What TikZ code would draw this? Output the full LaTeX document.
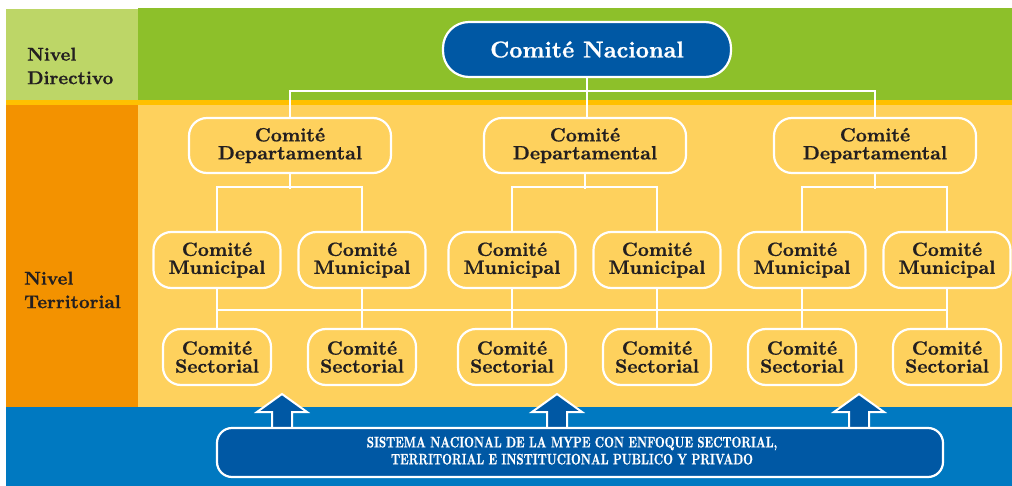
\documentclass[tikz,border=0pt]{standalone}
\usepackage{fontspec}
\setmainfont{lmroman10-regular.otf}[BoldFont=lmroman10-bold.otf, BoldFeatures={FakeBold=0.8}]

\definecolor{verdeclaro}{HTML}{BDD667}
\definecolor{verde}{HTML}{8DC02A}
\definecolor{oro}{HTML}{FFC000}
\definecolor{naranja}{HTML}{F39200}
\definecolor{amarillo}{HTML}{FED15D}
\definecolor{azul}{HTML}{0079C1}
\definecolor{azuloscuro}{HTML}{0058A4}
\definecolor{texto}{HTML}{231F20}

\tikzset{
  comite/.style={draw=white, line width=2.2pt, fill=amarillo, rounded corners=18pt,
    align=center, text=texto, inner sep=0pt, minimum height=56pt,
    font=\fontsize{19.2}{18}\selectfont\bfseries},
  nivel/.style={anchor=west, align=left, text=texto, inner sep=0pt,
    font=\fontsize{18.6}{23.5}\selectfont\bfseries},
  enlace/.style={white, line width=2.2pt},
  flecha/.style={draw=white, line width=2pt, fill=azuloscuro},
}

\begin{document}
\begin{tikzpicture}[x=1pt,y=-1pt]
  \useasboundingbox (0,0) rectangle (1012,486);
  % bands
  \fill[white] (0,0) rectangle (1012,486);
  \fill[verdeclaro] (6,9) rectangle (138,100);
  \fill[verde] (138,8) rectangle (1012,100);
  \fill[oro] (6,100) rectangle (1012,105);
  \fill[naranja] (6,105) rectangle (138,407);
  \fill[amarillo] (138,105) rectangle (1012,407);
  \fill[azul] (6,407) rectangle (1012,486);
  % level labels
  \node[nivel] (dir) at (27,66) {Nivel\\Directivo};
  \node[nivel] (ter) at (24,290) {Nivel\\Territorial};
  % committees
  \node[comite, fill=azuloscuro, text=white, minimum width=288pt, minimum height=55pt,
    rounded corners=26pt, font=\fontsize{23}{24}\selectfont\bfseries]
    (nac) at (587,49.5) {Comité Nacional};
  \node[comite, minimum width=202pt, minimum height=55pt] (dep1) at (290,145.5) {Comité\\Departamental};
  \node[comite, minimum width=202pt, minimum height=55pt] (dep2) at (585,145.5) {Comité\\Departamental};
  \node[comite, minimum width=202pt, minimum height=55pt] (dep3) at (875,145.5) {Comité\\Departamental};
  \foreach \i/\cx in {1/217,2/362,3/512,4/657,5/802,6/947} {
    \node[comite, minimum width=127pt] (mun\i) at (\cx,260) {Comité\\Municipal};
    \node[comite, minimum width=108pt] (sec\i) at (\cx,357) {Comité\\Sectorial};
  }
  % connectors
  \coordinate (barra) at (0,310);
  \draw[enlace] (nac.south) -- (nac.south |- dep2.north);
  \draw[enlace] (dep1.north) -- ++(0,-26) -| (dep3.north);
  \foreach \d/\a/\b in {1/1/2,2/3/4,3/5/6} {
    \draw[enlace] (dep\d.south) -- ++(0,15);
    \draw[enlace] (mun\a.north) -- ++(0,-44) -| (mun\b.north);
  }
  \draw[enlace] (mun1.south |- barra) -- (mun6.south |- barra);
  \foreach \i in {1,...,6}
    \draw[enlace] (mun\i.south) -- (sec\i.north);
  % arrows up from the system
  \foreach \ax in {282,557,859}
    \draw[flecha] (\ax,394) -- ++(25,18) -- ++(-15,0) -- ++(0,18) -- ++(-20,0)
      -- ++(0,-18) -- ++(-15,0) -- cycle;
  \node[comite, fill=azuloscuro, text=white, minimum width=726pt, minimum height=49pt,
    rounded corners=15pt, font=\fontsize{11.3}{12.6}\selectfont\bfseries]
    (sis) at (580,452.5) {\scalebox{1}[1.35]{\begin{tabular}{@{}c@{}}SISTEMA NACIONAL DE LA MYPE CON ENFOQUE SECTORIAL,\\TERRITORIAL E INSTITUCIONAL PUBLICO Y PRIVADO\end{tabular}}\hspace*{16pt}};
\end{tikzpicture}
\end{document}
